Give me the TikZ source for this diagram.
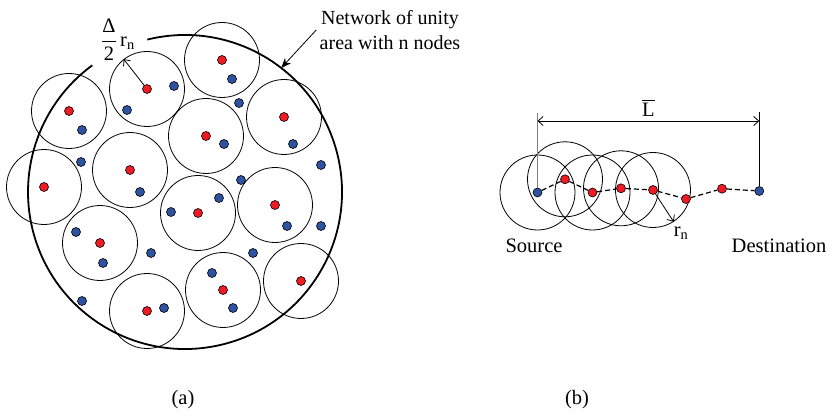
\documentclass[tikz,border=0pt]{standalone}
\usepackage{amsmath}
\usepackage{fontspec}
\setmainfont{Liberation Serif}
\usetikzlibrary{positioning,arrows.meta}
\definecolor{relayred}{RGB}{237,28,36}
\definecolor{nodeblue}{RGB}{47,82,160}

\begin{document}
\begin{tikzpicture}[x=1pt, y=-1pt, font=\fontsize{20.5}{25}\selectfont,
    reddot/.style={circle, draw, line width=0.6pt, fill=relayred, inner sep=0pt, minimum size=9pt},
    bluedot/.style={reddot, fill=nodeblue},
    txrange/.style={circle, draw, line width=0.8pt, inner sep=0pt, minimum size=75pt},
    barb/.style={-{Straight Barb[length=5pt, width=9pt]}, line width=0.8pt},
    hop/.style={dash pattern=on 5pt off 3pt, line width=1.2pt}]
    \useasboundingbox (0,0) rectangle (831,417);

    % (a) network of unity area
    \coordinate (area) at (185,192);
    \draw[line width=1.8pt] (area) ++(103.9:157pt) arc[start angle=103.9, end angle=-233.8, radius=157pt];
    \foreach \x/\y [count=\i] in {69/111, 147/89, 222/60, 284/117, 206/136, 130/170, 44/187, 198/213, 275/205, 100/243, 147/311, 223/290, 301/281} {
        \node[txrange] (c\i) at (\x,\y) {};
        \node[reddot] (r\i) at (\x,\y) {};
    }
    \foreach \x/\y [count=\i] in {174/86, 127/110, 232/79, 239/103, 82/130, 224/144, 293/144, 81/162, 321/165, 140/192, 241/180, 219/198, 171/212, 287/226, 321/226, 76/232, 151/253, 253/253, 103/263, 82/301, 164/308, 212/273, 233/308}
        \node[bluedot] (b\i) at (\x,\y) {};
    \draw[barb] (r2) -- (c2.128);
    \node[inner sep=1pt] (rangelbl) at (118,40) {$\dfrac{\text{Δ}}{\text{2}}$\,r\textsubscript{n}};
    \node[align=center, font=\fontsize{20}{25}\selectfont] (netlbl) at (390,30) {Network of unity\\area with n nodes};
    \path (area) ++(52.2:157pt) coordinate (areaNE);
    \draw[-{Stealth[length=10pt, width=8pt]}, line width=0.8pt] (netlbl.west) -- (areaNE);
    \node (capa) at (183,400) {(a)};

    % (b) multi-hop route
    \node[txrange] (k0) at (537.5,192.5) {};
    \node[bluedot] (s) at (537.5,192.5) {};
    \foreach \x/\y [count=\i] in {565/179.3, 592.5/192.5, 621/188.3, 653/190, 686/199, 722/188.7} {
        \ifnum\i<5 \node[txrange] (k\i) at (\x,\y) {}; \fi
        \node[reddot] (h\i) at (\x,\y) {};
    }
    \node[bluedot] (d) at (759.3,191) {};
    \draw[hop] (s) -- (h1) -- (h2) -- (h3) -- (h4) -- (h5) -- (h6) -- (d);
    \draw[barb] (h4) -- (k4.303);
    \node (hoplbl) at (681,233) {r\textsubscript{n}};

    \draw[line width=0.8pt, gray] (s.north) -- ++(0,-75) coordinate (sTop);
    \draw[line width=0.8pt] (d.north) -- ++(0,-74) coordinate (dTop);
    \coordinate (dimlevel) at (0,121);
    \draw[barb, <->, >={Straight Barb[length=5pt, width=9pt]}] (s |- dimlevel) -- node[above=1pt] (lbar) {$\overline{\text{L}}$} (d |- dimlevel);
    \node (srclbl) at (534,246) {Source};
    \node (dstlbl) at (779,246) {Destination};
    \node (capb) at (577,400) {(b)};
\end{tikzpicture}
\end{document}
